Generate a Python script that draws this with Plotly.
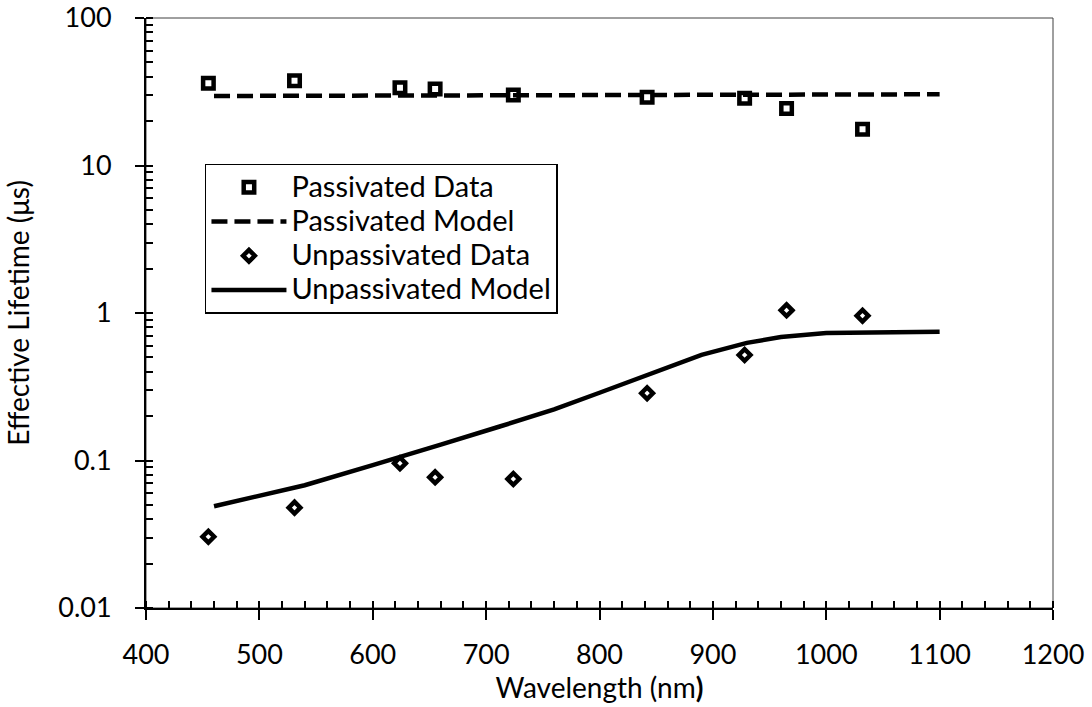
import plotly.graph_objects as go

# Measured lifetimes at each excitation wavelength
wavelength_nm = [455, 531, 624, 655, 724, 842, 928, 965, 1032]
passivated_us = [36.1, 37.6, 33.7, 33.0, 30.1, 29.0, 28.6, 24.3, 17.6]
unpassivated_us = [0.0304, 0.0479, 0.0957, 0.0769, 0.0749, 0.286, 0.519, 1.043, 0.959]

# Model curves
passivated_model_nm = [460, 700, 900, 1100]
passivated_model_us = [29.6, 29.9, 30.2, 30.4]

unpassivated_model_nm = [460, 500, 540, 600, 625, 660, 712, 760, 800, 840, 890, 930,
                         960, 1000, 1050, 1100]
unpassivated_model_us = [0.049, 0.058, 0.068, 0.093, 0.107, 0.128, 0.17, 0.222, 0.288,
                         0.372, 0.52, 0.627, 0.688, 0.732, 0.744, 0.747]

y_tickvals = [0.01, 0.1, 1, 10, 100]
y_ticktext = ["0.01", "0.1", "1", "10", "100"]

FONT = "Lato"
FS = 27


def legend_label(text):
    # larger glyphs inside the legend while keeping compact row spacing
    return f"<span style='font-size:29px'>{text}</span>"


fig = go.Figure()

fig.add_trace(go.Scatter(
    x=wavelength_nm, y=passivated_us, mode="markers", name=legend_label("Passivated Data"),
    marker=dict(symbol="square-open", size=10.5, color="black", line=dict(width=4.5)),
))
fig.add_trace(go.Scatter(
    x=passivated_model_nm, y=passivated_model_us, mode="lines",
    name=legend_label("Passivated Model"),
    line=dict(color="black", width=4.5, dash="16px,7px"),
))
fig.add_trace(go.Scatter(
    x=wavelength_nm, y=unpassivated_us, mode="markers",
    name=legend_label("Unpassivated Data"),
    marker=dict(symbol="diamond-open", size=9, color="black", line=dict(width=4.5)),
))
fig.add_trace(go.Scatter(
    x=unpassivated_model_nm, y=unpassivated_model_us, mode="lines",
    name=legend_label("Unpassivated Model"),
    line=dict(color="black", width=4.5),
))
# empty trace that carries the overlay axes (inner half of the major ticks)
fig.add_trace(go.Scatter(x=[], y=[], xaxis="x2", yaxis="y2", showlegend=False,
                         hoverinfo="skip"))

fig.update_layout(
    width=1092, height=707,
    margin=dict(l=146, r=39, t=18, b=99, autoexpand=False),
    paper_bgcolor="white", plot_bgcolor="white",
    font=dict(family=FONT, size=FS, color="black"),
    showlegend=True,
    legend=dict(
        x=0.065, y=0.753, xanchor="left", yanchor="top",
        bgcolor="white", bordercolor="black", borderwidth=1.5,
        font=dict(family=FONT, size=24, color="black"),
        itemwidth=75, tracegroupgap=0,
    ),
    xaxis=dict(
        range=[400, 1200], dtick=100, tick0=400, automargin=False,
        showgrid=False, zeroline=False,
        showline=True, linecolor="black", linewidth=2,
        ticks="outside", ticklen=10, tickwidth=2, tickcolor="black",
        ticklabelstandoff=12,
        minor=dict(dtick=20, tick0=400, ticks="inside", ticklen=7, tickwidth=1.5,
                   tickcolor="black", showgrid=False),
        title=dict(text="Wavelength (nm<b>)</b>", font=dict(size=28), standoff=6),
    ),
    yaxis=dict(
        type="log", range=[-2, 2], automargin=False,
        tickvals=y_tickvals, ticktext=y_ticktext,
        showgrid=False, zeroline=False,
        showline=True, linecolor="black", linewidth=2,
        ticks="outside", ticklen=9, tickwidth=2, tickcolor="black",
        ticklabelstandoff=18,
        minor=dict(dtick="D1", ticks="inside", ticklen=7, tickwidth=1.5,
                   tickcolor="black", showgrid=False),
        title=dict(text="Effective Lifetime (μs)", font=dict(size=28), standoff=20),
    ),
    xaxis2=dict(
        overlaying="x", anchor="y2", side="bottom", automargin=False,
        range=[400, 1200], dtick=100, tick0=400,
        showgrid=False, zeroline=False, showline=False, showticklabels=False,
        ticks="inside", ticklen=7, tickwidth=2, tickcolor="black",
    ),
    yaxis2=dict(
        overlaying="y", anchor="x2", side="left", type="log", range=[-2, 2],
        automargin=False, tickvals=y_tickvals,
        showgrid=False, zeroline=False, showline=False, showticklabels=False,
        ticks="inside", ticklen=7, tickwidth=2, tickcolor="black",
    ),
    shapes=[dict(type="rect", xref="x domain", yref="y domain", x0=0, x1=1, y0=0, y1=1,
                 line=dict(color="#404040", width=1), layer="below")],
)

fig.write_html("out.html")
